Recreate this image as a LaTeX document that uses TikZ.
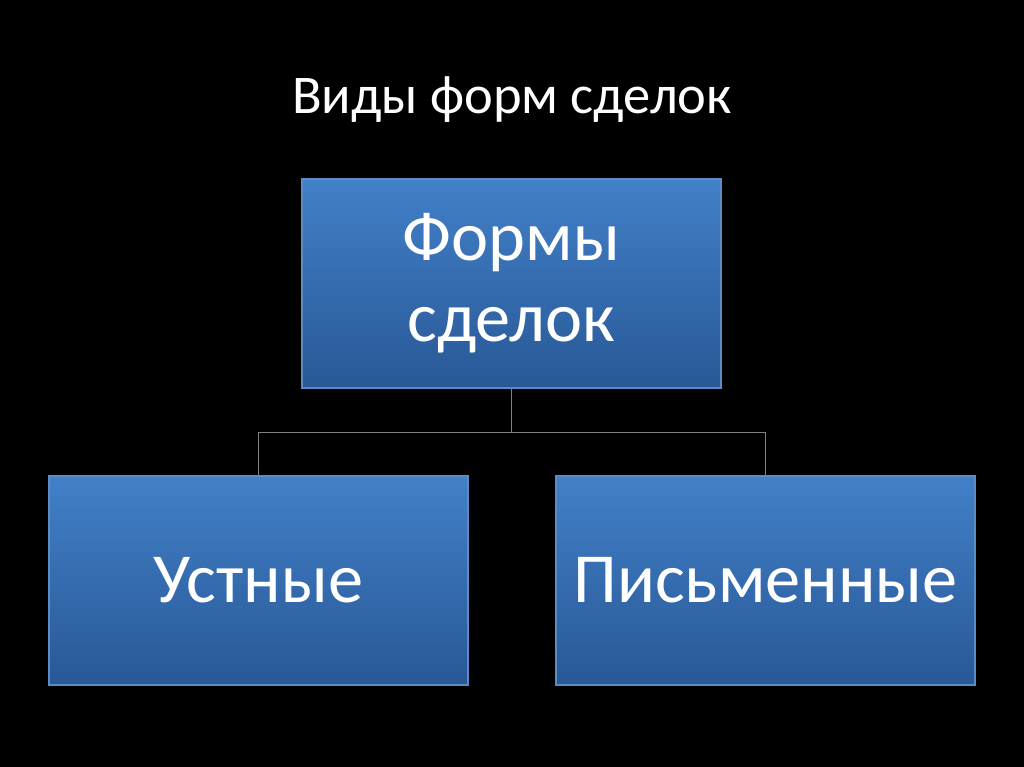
\documentclass[tikz,border=0pt]{standalone}
\usepackage{fontspec}
\setmainfont{Carlito}
\usepackage{tikz}
\definecolor{BoxTop}{RGB}{66,128,200}
\definecolor{BoxBot}{RGB}{40,88,150}
\definecolor{BoxLine}{RGB}{90,140,200}
\begin{document}
\begin{tikzpicture}[x=0.01cm,y=-0.01cm]
			\tikzstyle{box} = [draw=BoxLine, top color=BoxTop, bottom color=BoxBot, rectangle, minimum height=2.09cm, minimum width=4.19cm, text=white, align=center, font=\fontsize{20}{23}\selectfont]
			\fill[black] (0,0) rectangle (1024,767);
			\node[text=white, font=\fontsize{15.5}{18}\selectfont] (title) at (512,100) {Виды форм сделок};
			\node[box] (forms) at (511.5,283.5) {Формы\\сделок};
			\node[box] (oral) at (258.5,580.5) {Устные};
			\node[box] (written) at (765.5,580.5) {Письменные};

			\draw[gray] (forms.south) -- ++(0,44) coordinate (fork);
			\draw[gray] (fork) -| (oral.north);
			\draw[gray] (fork) -| (written.north);
	\end{tikzpicture}
\end{document}
